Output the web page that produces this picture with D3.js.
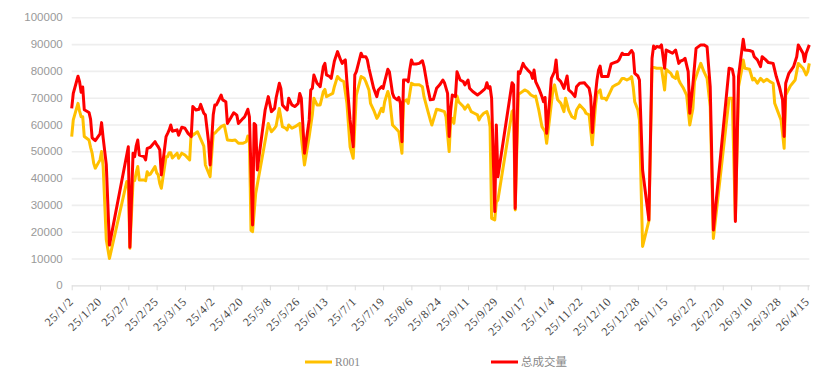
<!DOCTYPE html>
<html>
<head>
<meta charset="utf-8">
<script src="https://cdn.jsdelivr.net/npm/d3@7/dist/d3.min.js"></script>
<style>
  body { margin: 0; background: #fff; }
  svg { display: block; }
</style>
</head>
<body>
<div id="chart"></div>
<script>
// x axis: one category per calendar day
const firstDay = "2025-01-02";
const lastDay = "2026-04-16";
const tickLabels = ["25/1/2", "25/1/20", "25/2/7", "25/2/25", "25/3/15", "25/4/2", "25/4/20", "25/5/8",
  "25/5/26", "25/6/13", "25/7/1", "25/7/19", "25/8/6", "25/8/24", "25/9/11", "25/9/29", "25/10/17",
  "25/11/4", "25/11/22", "25/12/10", "25/12/28", "26/1/15", "26/2/2", "26/2/20", "26/3/10", "26/3/28", "26/4/15"];
const yTicks = [0, 10000, 20000, 30000, 40000, 50000, 60000, 70000, 80000, 90000, 100000];

const seriesNames = ["R001", "总成交量"];
const seriesColors = ["#ffc000", "#ff0000"];

// R001
const r001Points = [
  ["25/1/2", 55500], ["25/1/3", 61700], ["25/1/6", 67900], ["25/1/7", 65000], ["25/1/8", 62900], ["25/1/9", 62900],
  ["25/1/10", 55500], ["25/1/13", 54200], ["25/1/14", 51500], ["25/1/15", 49300], ["25/1/16", 45500], ["25/1/17", 43700],
  ["25/1/20", 46800], ["25/1/21", 49900], ["25/1/22", 44300], ["25/1/24", 17000], ["25/1/26", 10000], ["25/2/6", 38700],
  ["25/2/7", 38000], ["25/2/8", 13800], ["25/2/10", 38700], ["25/2/11", 39000], ["25/2/12", 42000], ["25/2/13", 44300],
  ["25/2/14", 39300], ["25/2/17", 39300], ["25/2/18", 39000], ["25/2/19", 42400], ["25/2/20", 41200], ["25/2/21", 41500],
  ["25/2/24", 44300], ["25/2/25", 42000], ["25/2/26", 41200], ["25/2/27", 38000], ["25/2/28", 36200], ["25/3/3", 48000],
  ["25/3/4", 48000], ["25/3/5", 49500], ["25/3/6", 49500], ["25/3/7", 47500], ["25/3/10", 49300], ["25/3/11", 47400],
  ["25/3/13", 49300], ["25/3/15", 48600], ["25/3/18", 46800], ["25/3/19", 57300], ["25/3/20", 56000], ["25/3/23", 57300],
  ["25/3/27", 51900], ["25/3/28", 44900], ["25/3/31", 40500], ["25/4/2", 56700], ["25/4/3", 56700], ["25/4/5", 58000],
  ["25/4/7", 59200], ["25/4/9", 59800], ["25/4/11", 54200], ["25/4/14", 54000], ["25/4/16", 54200], ["25/4/18", 53000],
  ["25/4/21", 53000], ["25/4/23", 53600], ["25/4/24", 55700], ["25/4/25", 54200], ["25/4/26", 20500], ["25/4/27", 20000],
  ["25/4/29", 34300], ["25/5/7", 60400], ["25/5/9", 57300], ["25/5/11", 58600], ["25/5/12", 59500], ["25/5/14", 66000],
  ["25/5/16", 59200], ["25/5/18", 58600], ["25/5/19", 58000], ["25/5/20", 59800], ["25/5/22", 58600], ["25/5/24", 59200],
  ["25/5/27", 60400], ["25/5/30", 44900], ["25/6/2", 55500], ["25/6/4", 63600], ["25/6/5", 69800], ["25/6/7", 67300],
  ["25/6/9", 67300], ["25/6/11", 72300], ["25/6/12", 73100], ["25/6/13", 70400], ["25/6/15", 71000], ["25/6/17", 71600],
  ["25/6/18", 74100], ["25/6/20", 77900], ["25/6/22", 76600], ["25/6/24", 76000], ["25/6/26", 67900], ["25/6/28", 51700],
  ["25/6/30", 47400], ["25/7/2", 71000], ["25/7/5", 77900], ["25/7/7", 77200], ["25/7/8", 76000], ["25/7/10", 72900],
  ["25/7/11", 67900], ["25/7/13", 65400], ["25/7/15", 62300], ["25/7/16", 63200], ["25/7/18", 66000], ["25/7/19", 64800],
  ["25/7/20", 68500], ["25/7/22", 72300], ["25/7/23", 70400], ["25/7/25", 59800], ["25/7/27", 58600], ["25/7/29", 57300],
  ["25/7/31", 49300], ["25/8/1", 68500], ["25/8/3", 69200], ["25/8/4", 67900], ["25/8/6", 75400], ["25/8/8", 74800],
  ["25/8/11", 74800], ["25/8/13", 74100], ["25/8/14", 70400], ["25/8/16", 66000], ["25/8/18", 61700], ["25/8/19", 59800],
  ["25/8/22", 65700], ["25/8/24", 65400], ["25/8/27", 64800], ["25/8/28", 62900], ["25/8/30", 49900], ["25/8/31", 61700],
  ["25/9/1", 62300], ["25/9/2", 60400], ["25/9/4", 70600], ["25/9/5", 68500], ["25/9/8", 66700], ["25/9/9", 65700],
  ["25/9/11", 67300], ["25/9/13", 64800], ["25/9/15", 64200], ["25/9/17", 63600], ["25/9/18", 61700], ["25/9/19", 62900],
  ["25/9/21", 64200], ["25/9/23", 64800], ["25/9/24", 62900], ["25/9/25", 59200], ["25/9/26", 25000], ["25/9/28", 24400],
  ["25/9/29", 31000], ["25/9/30", 31800], ["25/10/9", 64800], ["25/10/10", 65400], ["25/10/11", 28100], ["25/10/13", 71600],
  ["25/10/14", 71600], ["25/10/17", 72900], ["25/10/19", 72300], ["25/10/21", 71000], ["25/10/23", 70400], ["25/10/24", 70600],
  ["25/10/26", 65400], ["25/10/28", 59200], ["25/10/30", 57300], ["25/10/31", 53000], ["25/11/2", 62900], ["25/11/4", 72900],
  ["25/11/5", 74800], ["25/11/7", 69200], ["25/11/9", 67900], ["25/11/11", 64800], ["25/11/12", 69800], ["25/11/14", 65400],
  ["25/11/16", 62900], ["25/11/18", 62300], ["25/11/19", 65400], ["25/11/21", 67300], ["25/11/24", 65400], ["25/11/25", 64200],
  ["25/11/27", 63600], ["25/11/29", 52400], ["25/12/1", 66700], ["25/12/2", 71600], ["25/12/4", 72900], ["25/12/5", 69800],
  ["25/12/7", 69800], ["25/12/8", 69200], ["25/12/10", 71600], ["25/12/12", 74100], ["25/12/14", 74800], ["25/12/16", 75400],
  ["25/12/18", 77200], ["25/12/19", 77200], ["25/12/21", 76600], ["25/12/23", 77200], ["25/12/24", 77900], ["25/12/25", 74100],
  ["25/12/26", 68500], ["25/12/28", 65400], ["25/12/29", 61700], ["25/12/31", 14500], ["26/1/4", 24000], ["26/1/6", 81000],
  ["26/1/7", 81300], ["26/1/9", 81000], ["26/1/12", 81000], ["26/1/14", 72900], ["26/1/15", 80600], ["26/1/18", 79100],
  ["26/1/19", 77900], ["26/1/21", 77200], ["26/1/22", 79700], ["26/1/23", 76600], ["26/1/24", 75400], ["26/1/26", 73500],
  ["26/1/28", 71000], ["26/1/29", 65400], ["26/1/30", 59800], ["26/2/1", 66000], ["26/2/2", 76000], ["26/2/4", 79700],
  ["26/2/6", 82800], ["26/2/8", 79700], ["26/2/10", 77200], ["26/2/12", 66700], ["26/2/14", 17500], ["26/2/24", 69800],
  ["26/2/26", 69800], ["26/2/28", 24400], ["26/3/2", 74100], ["26/3/4", 80300], ["26/3/5", 84100], ["26/3/6", 81000],
  ["26/3/9", 80600], ["26/3/11", 76600], ["26/3/12", 77200], ["26/3/14", 75400], ["26/3/16", 77200], ["26/3/18", 76000],
  ["26/3/20", 76900], ["26/3/22", 76000], ["26/3/24", 75400], ["26/3/25", 67900], ["26/3/27", 64800], ["26/3/29", 61700],
  ["26/3/30", 56700], ["26/3/31", 51100], ["26/4/1", 71000], ["26/4/4", 74400], ["26/4/7", 76600], ["26/4/9", 82800],
  ["26/4/12", 81000], ["26/4/14", 78500], ["26/4/15", 79700], ["26/4/16", 82800]
];

// 总成交量
const volumePoints = [
  ["25/1/2", 66000], ["25/1/3", 71600], ["25/1/6", 78000], ["25/1/7", 76000], ["25/1/8", 72000], ["25/1/9", 74000],
  ["25/1/10", 65500], ["25/1/13", 64500], ["25/1/14", 62000], ["25/1/15", 55000], ["25/1/16", 54500], ["25/1/17", 54000],
  ["25/1/20", 56500], ["25/1/21", 60700], ["25/1/22", 55000], ["25/1/24", 45000], ["25/1/26", 15000], ["25/2/7", 51700],
  ["25/2/8", 14200], ["25/2/10", 49300], ["25/2/11", 48000], ["25/2/12", 52000], ["25/2/13", 54200], ["25/2/14", 48600],
  ["25/2/17", 48000], ["25/2/18", 46800], ["25/2/19", 51100], ["25/2/20", 51300], ["25/2/21", 51500], ["25/2/24", 53600],
  ["25/2/25", 52500], ["25/2/26", 51700], ["25/2/27", 50500], ["25/2/28", 41200], ["25/3/3", 55500], ["25/3/4", 56700],
  ["25/3/5", 58000], ["25/3/6", 59800], ["25/3/7", 57500], ["25/3/10", 58000], ["25/3/11", 56000], ["25/3/13", 59000],
  ["25/3/15", 58600], ["25/3/17", 56700], ["25/3/19", 55500], ["25/3/20", 66700], ["25/3/22", 65400], ["25/3/24", 65700],
  ["25/3/25", 67500], ["25/3/27", 64200], ["25/3/28", 63600], ["25/3/30", 53600], ["25/3/31", 44900], ["25/4/2", 63600],
  ["25/4/3", 67300], ["25/4/4", 67300], ["25/4/5", 68500], ["25/4/7", 71000], ["25/4/8", 69200], ["25/4/10", 68500],
  ["25/4/11", 60400], ["25/4/13", 62300], ["25/4/15", 64400], ["25/4/17", 63500], ["25/4/18", 60400], ["25/4/21", 62300],
  ["25/4/22", 62900], ["25/4/24", 65700], ["25/4/25", 62900], ["25/4/27", 22500], ["25/4/28", 60400], ["25/4/29", 59700],
  ["25/4/30", 43000], ["25/5/5", 65400], ["25/5/7", 70400], ["25/5/9", 64800], ["25/5/11", 66000], ["25/5/12", 70000],
  ["25/5/14", 75400], ["25/5/15", 73500], ["25/5/16", 67300], ["25/5/18", 66000], ["25/5/19", 65400], ["25/5/20", 69800],
  ["25/5/22", 67300], ["25/5/24", 66700], ["25/5/26", 67900], ["25/5/27", 71600], ["25/5/28", 69800], ["25/5/30", 49300],
  ["25/6/2", 61700], ["25/6/3", 72900], ["25/6/4", 73500], ["25/6/5", 78500], ["25/6/7", 75400], ["25/6/8", 74800],
  ["25/6/9", 74100], ["25/6/11", 81600], ["25/6/12", 82800], ["25/6/13", 78500], ["25/6/15", 77900], ["25/6/16", 77200],
  ["25/6/18", 83600], ["25/6/20", 87200], ["25/6/22", 84100], ["25/6/23", 82800], ["25/6/24", 83600], ["25/6/25", 84100],
  ["25/6/26", 76000], ["25/6/28", 61700], ["25/6/30", 51700], ["25/7/1", 78500], ["25/7/2", 79700], ["25/7/5", 86600],
  ["25/7/6", 85300], ["25/7/8", 85300], ["25/7/9", 84100], ["25/7/10", 81000], ["25/7/12", 76000], ["25/7/13", 73500],
  ["25/7/15", 70400], ["25/7/16", 72900], ["25/7/18", 74100], ["25/7/19", 73500], ["25/7/20", 76000], ["25/7/22", 80600],
  ["25/7/23", 79700], ["25/7/25", 71600], ["25/7/26", 70100], ["25/7/28", 69200], ["25/7/29", 70100], ["25/7/30", 67900],
  ["25/7/31", 53600], ["25/8/1", 76600], ["25/8/3", 76600], ["25/8/4", 76000], ["25/8/5", 80600], ["25/8/6", 84100],
  ["25/8/7", 82600], ["25/8/9", 82600], ["25/8/11", 82800], ["25/8/13", 83800], ["25/8/14", 81600], ["25/8/16", 74800],
  ["25/8/18", 69200], ["25/8/20", 69400], ["25/8/22", 73500], ["25/8/24", 74800], ["25/8/26", 76600], ["25/8/27", 75600],
  ["25/8/29", 71600], ["25/8/30", 55500], ["25/8/31", 65400], ["25/9/1", 71000], ["25/9/3", 70400], ["25/9/4", 79700],
  ["25/9/6", 76600], ["25/9/8", 76000], ["25/9/9", 74800], ["25/9/11", 76600], ["25/9/12", 73500], ["25/9/14", 72300],
  ["25/9/17", 71000], ["25/9/19", 71900], ["25/9/21", 72900], ["25/9/22", 73500], ["25/9/23", 75600], ["25/9/24", 73500],
  ["25/9/25", 74100], ["25/9/26", 69800], ["25/9/28", 27500], ["25/9/29", 59800], ["25/9/30", 40500], ["25/10/9", 75600],
  ["25/10/10", 74800], ["25/10/11", 28700], ["25/10/13", 79700], ["25/10/14", 79100], ["25/10/16", 82800], ["25/10/17", 81600],
  ["25/10/19", 80300], ["25/10/21", 79100], ["25/10/22", 77200], ["25/10/23", 80300], ["25/10/24", 76000], ["25/10/26", 73500],
  ["25/10/28", 70400], ["25/10/29", 68500], ["25/10/30", 70100], ["25/10/31", 56700], ["25/11/2", 69800], ["25/11/3", 77200],
  ["25/11/5", 79700], ["25/11/6", 84100], ["25/11/7", 77200], ["25/11/9", 76000], ["25/11/11", 73500], ["25/11/13", 78100],
  ["25/11/14", 72900], ["25/11/16", 71900], ["25/11/18", 70400], ["25/11/19", 74100], ["25/11/21", 75400], ["25/11/24", 75600],
  ["25/11/25", 74800], ["25/11/27", 73500], ["25/11/28", 70400], ["25/11/29", 57000], ["25/11/30", 65400], ["25/12/2", 76600],
  ["25/12/3", 80300], ["25/12/4", 81800], ["25/12/5", 77900], ["25/12/7", 77900], ["25/12/9", 77900], ["25/12/10", 80300],
  ["25/12/11", 82600], ["25/12/13", 83100], ["25/12/15", 83500], ["25/12/16", 84100], ["25/12/18", 86600], ["25/12/19", 86100],
  ["25/12/21", 86100], ["25/12/22", 86100], ["25/12/24", 87600], ["25/12/25", 86600], ["25/12/26", 79100], ["25/12/28", 78100],
  ["25/12/29", 76600], ["25/12/31", 43000], ["26/1/4", 24400], ["26/1/6", 84700], ["26/1/7", 89300], ["26/1/8", 88400],
  ["26/1/9", 89100], ["26/1/11", 88800], ["26/1/12", 89700], ["26/1/14", 81000], ["26/1/15", 87800], ["26/1/17", 87200],
  ["26/1/19", 86600], ["26/1/21", 87800], ["26/1/23", 82800], ["26/1/24", 83600], ["26/1/26", 84100], ["26/1/27", 84700],
  ["26/1/29", 79700], ["26/1/30", 64200], ["26/2/1", 75000], ["26/2/3", 88400], ["26/2/6", 89700], ["26/2/8", 89700],
  ["26/2/10", 89000], ["26/2/12", 74000], ["26/2/14", 20600], ["26/2/24", 81000], ["26/2/26", 80600], ["26/2/27", 77900],
  ["26/2/28", 23800], ["26/3/2", 77900], ["26/3/4", 87200], ["26/3/5", 91800], ["26/3/6", 87800], ["26/3/9", 87600],
  ["26/3/11", 87200], ["26/3/12", 85300], ["26/3/14", 84100], ["26/3/16", 81600], ["26/3/17", 85300], ["26/3/19", 84300],
  ["26/3/21", 83100], ["26/3/24", 82800], ["26/3/26", 77900], ["26/3/28", 74100], ["26/3/29", 71600], ["26/3/30", 69200],
  ["26/3/31", 55500], ["26/4/1", 75400], ["26/4/3", 79100], ["26/4/6", 81600], ["26/4/8", 85300], ["26/4/9", 89700],
  ["26/4/12", 86600], ["26/4/13", 83500], ["26/4/14", 86600], ["26/4/16", 89700]
];

const width = 832;
const height = 380;
const plot = { left: 71.7, right: 809.3, top: 17.3, bottom: 285.3 };

const fmt = d3.timeFormat("%y/%-m/%-d");
const parse = d3.timeParse("%Y-%m-%d");
const categories = d3.timeDay.range(parse(firstDay), d3.timeDay.offset(parse(lastDay), 1)).map(fmt);

const xScale = d3.scalePoint().domain(categories).range([plot.left, plot.right]);
const yScale = d3.scaleLinear().domain([0, 100000]).range([plot.bottom, plot.top]);

const svg = d3.select("#chart").append("svg")
  .attr("width", width)
  .attr("height", height);

// horizontal grid lines + y labels
const yAxis = svg.append("g")
  .attr("transform", `translate(${plot.left},0)`)
  .call(d3.axisLeft(yScale).tickValues(yTicks).tickSize(-(plot.right - plot.left)).tickPadding(9).tickFormat(d3.format("d")));
yAxis.select(".domain").remove();
yAxis.selectAll(".tick line").attr("stroke", "#eeeeee").attr("stroke-width", 1.6);
yAxis.selectAll(".tick text")
  .attr("fill", "#999")
  .style("font-family", "'Liberation Sans', Arial, sans-serif")
  .style("font-size", "11.5px");

// x axis
const xAxis = svg.append("g")
  .attr("transform", `translate(0,${plot.bottom})`)
  .call(d3.axisBottom(xScale).tickValues(tickLabels).tickSize(5).tickSizeOuter(0));
xAxis.select(".domain").attr("stroke", "#e6e6e6").attr("stroke-width", 1.6);
xAxis.selectAll(".tick line").attr("stroke", "#dddddd");
xAxis.selectAll(".tick text")
  .attr("fill", "#444")
  .attr("text-anchor", "end")
  .attr("x", 0)
  .attr("y", 0)
  .attr("dy", 0)
  .attr("transform", "translate(2,17) rotate(-45)")
  .style("font-family", "'Liberation Serif', 'Times New Roman', serif")
  .style("font-size", "12px")
  .style("letter-spacing", "0.7px");

// lines
const line = d3.line()
  .x(d => xScale(d[0]))
  .y(d => yScale(d[1]));

[r001Points, volumePoints].forEach((pts, i) => {
  svg.append("path")
    .datum(pts)
    .attr("fill", "none")
    .attr("stroke", seriesColors[i])
    .attr("stroke-width", 3)
    .attr("stroke-linejoin", "round")
    .attr("d", line);
});

// legend
const legendX = [305, 491];
seriesNames.forEach((name, i) => {
  const g = svg.append("g").attr("transform", `translate(${legendX[i]},362)`);
  g.append("line")
    .attr("x1", 0).attr("x2", 27)
    .attr("y1", 0).attr("y2", 0)
    .attr("stroke", seriesColors[i])
    .attr("stroke-width", 3);
  g.append("text")
    .attr("x", 30)
    .attr("y", 4)
    .attr("fill", "#888")
    .style("font-family", i === 0 ? "'Liberation Serif', serif" : "'Noto Sans CJK SC', sans-serif")
    .style("font-size", "11.5px")
    .text(name);
});
</script>
</body>
</html>
